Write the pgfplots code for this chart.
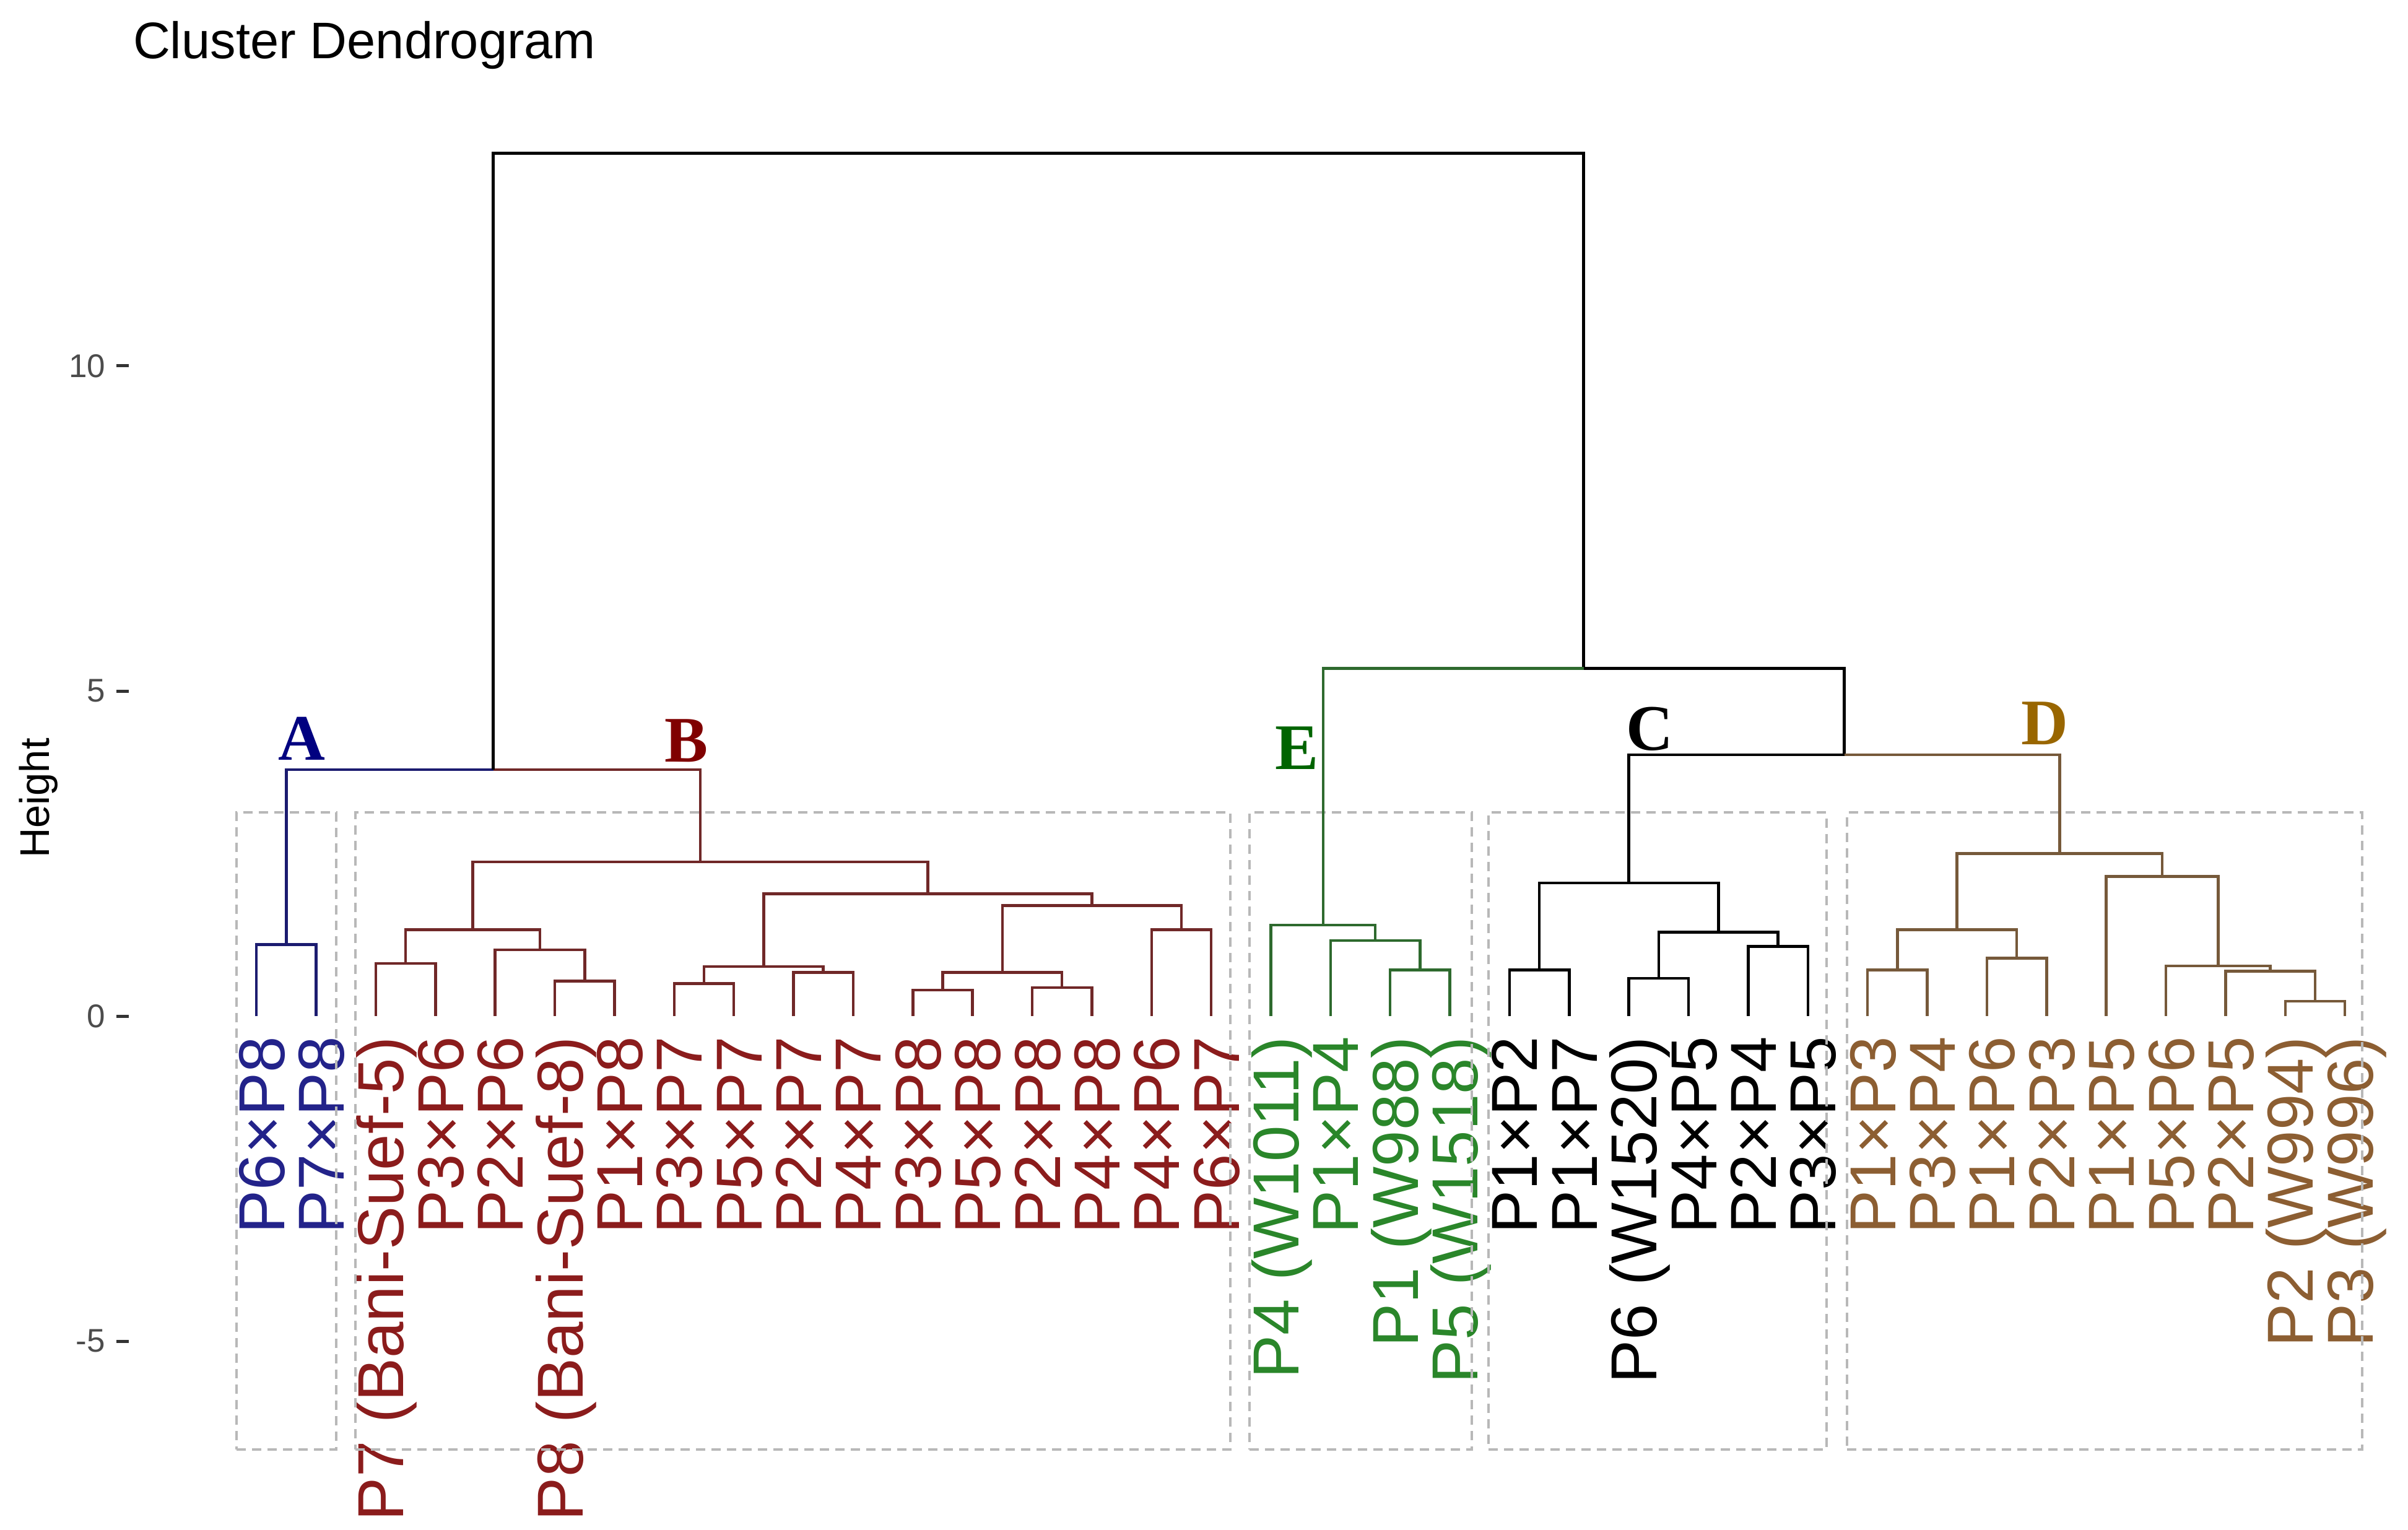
\documentclass[border=0pt]{standalone}
\usepackage{fontspec}
\setmainfont{Liberation Sans}
\newfontfamily\tnr{Liberation Serif}
\usepackage{pgfplots}
\pgfplotsset{compat=1.18}
\definecolor{cA}{HTML}{23238A}
\definecolor{cB}{HTML}{8B1C1C}
\definecolor{cE}{HTML}{2A862A}
\definecolor{cC}{HTML}{000000}
\definecolor{cD}{HTML}{8C5E32}
\definecolor{lA}{HTML}{1C1C70}
\definecolor{lB}{HTML}{702828}
\definecolor{lE}{HTML}{2E6A2E}
\definecolor{lD}{HTML}{76593A}
\definecolor{tA}{HTML}{000080}
\definecolor{tB}{HTML}{800000}
\definecolor{tE}{HTML}{006400}
\definecolor{tD}{HTML}{996600}
\newcommand{\LA}[1]{\textcolor{cA}{#1}}
\newcommand{\LB}[1]{\textcolor{cB}{#1}}
\newcommand{\LE}[1]{\textcolor{cE}{#1}}
\newcommand{\LC}[1]{\textcolor{cC}{#1}}
\newcommand{\LD}[1]{\textcolor{cD}{#1}}
\begin{document}
\begin{tikzpicture}
\useasboundingbox (0,0) rectangle (388.9pt,247pt);
\node[anchor=base west, inner sep=0pt, font=\fontsize{8.3}{10}\selectfont] at (21.3pt,237.5pt) {Cluster Dendrogram};
\node[rotate=90, inner sep=0pt, font=\fontsize{6.7}{8}\selectfont] at (6.2pt,118.1pt) {Height};
\begin{axis}[
  at={(20.8pt,1.0pt)}, anchor=south west,
  scale only axis, width=366.2pt, height=227.85pt,
  xmin=-1.14, xmax=36.86, ymin=-7.8, ymax=13.9,
  clip=false,
  axis x line*=middle, axis y line*=left,
  x axis line style={draw=none}, y axis line style={draw=none},
  xtick={1,...,36},
  xtick style={draw=none},
  xticklabels={\LA{P6×P8},\LA{P7×P8},\LB{P7 (Bani-Suef-5)},\LB{P3×P6},\LB{P2×P6},\LB{P8 (Bani-Suef-8)},\LB{P1×P8},\LB{P3×P7},\LB{P5×P7},\LB{P2×P7},\LB{P4×P7},\LB{P3×P8},\LB{P5×P8},\LB{P2×P8},\LB{P4×P8},\LB{P4×P6},\LB{P6×P7},\LE{P4 (W1011)},\LE{P1×P4},\LE{P1 (W988)},\LE{P5 (W1518)},\LC{P1×P2},\LC{P1×P7},\LC{P6 (W1520)},\LC{P4×P5},\LC{P2×P4},\LC{P3×P5},\LD{P1×P3},\LD{P3×P4},\LD{P1×P6},\LD{P2×P3},\LD{P1×P5},\LD{P5×P6},\LD{P2×P5},\LD{P2 (W994)},\LD{P3 (W996)}},
  xticklabel style={yshift=-1.1pt, rotate=90, anchor=east, inner sep=0pt, text height=0.9em, text depth=0pt, font=\fontsize{10.5}{12}\selectfont},
  ytick={-5,0,5,10}, yticklabels={-5,0,5,10},
  tick align=outside, major tick length=2pt,
  ytick style={color=black!80, line width=0.5pt},
  yticklabel style={font=\fontsize{5.3}{6}\selectfont, text=black!70, inner sep=0pt, xshift=-1.6pt},
  unbounded coords=jump,
  every axis plot/.append style={line width=0.45pt, line join=miter},
]
% cluster boxes
\addplot[color=black!28, dash pattern=on 1.5pt off 1pt, line width=0.4pt] coordinates {
(0.67,-6.67) (2.34,-6.67) (2.34,3.13) (0.67,3.13) (0.67,-6.67) (nan,nan)
(2.66,-6.67) (17.32,-6.67) (17.32,3.13) (2.66,3.13) (2.66,-6.67) (nan,nan)
(17.64,-6.67) (21.37,-6.67) (21.37,3.13) (17.64,3.13) (17.64,-6.67) (nan,nan)
(21.65,-6.67) (27.31,-6.67) (27.31,3.13) (21.65,3.13) (21.65,-6.67) (nan,nan)
(27.66,-6.67) (36.29,-6.67) (36.29,3.13) (27.66,3.13) (27.66,-6.67)
};
% cluster A
\addplot[color=lA] coordinates {
(1,0) (1,1.10) (2,1.10) (2,0) (nan,nan)
(1.5,1.10) (1.5,3.79) (4.96875,3.79)
};
% cluster B
\addplot[color=lB] coordinates {
(4.96875,3.79) (8.4375,3.79) (8.4375,2.37) (nan,nan)
(4.625,1.33) (4.625,2.37) (12.25,2.37) (12.25,1.88) (nan,nan)
(3.5,0.81) (3.5,1.33) (5.75,1.33) (5.75,1.02) (nan,nan)
(3,0) (3,0.81) (4,0.81) (4,0) (nan,nan)
(5,0) (5,1.02) (6.5,1.02) (6.5,0.54) (nan,nan)
(6,0) (6,0.54) (7,0.54) (7,0) (nan,nan)
(9.5,0.76) (9.5,1.88) (15,1.88) (15,1.70) (nan,nan)
(8.5,0.50) (8.5,0.76) (10.5,0.76) (10.5,0.67) (nan,nan)
(8,0) (8,0.50) (9,0.50) (9,0) (nan,nan)
(10,0) (10,0.67) (11,0.67) (11,0) (nan,nan)
(13.5,0.67) (13.5,1.70) (16.5,1.70) (16.5,1.33) (nan,nan)
(12.5,0.40) (12.5,0.67) (14.5,0.67) (14.5,0.44) (nan,nan)
(12,0) (12,0.40) (13,0.40) (13,0) (nan,nan)
(14,0) (14,0.44) (15,0.44) (15,0) (nan,nan)
(16,0) (16,1.33) (17,1.33) (17,0)
};
% upper black branches and cluster C
\addplot[color=black] coordinates {
(4.96875,3.79) (4.96875,13.27) (23.2422,13.27) (23.2422,5.35) (nan,nan)
(23.2422,5.35) (27.6094,5.35) (27.6094,4.02) (24,4.02) (24,2.05) (nan,nan)
(22.5,0.71) (22.5,2.05) (25.5,2.05) (25.5,1.29) (nan,nan)
(22,0) (22,0.71) (23,0.71) (23,0) (nan,nan)
(24.5,0.58) (24.5,1.29) (26.5,1.29) (26.5,1.07) (nan,nan)
(24,0) (24,0.58) (25,0.58) (25,0) (nan,nan)
(26,0) (26,1.07) (27,1.07) (27,0)
};
% cluster E
\addplot[color=lE] coordinates {
(23.2422,5.35) (18.875,5.35) (18.875,1.40) (nan,nan)
(18,0) (18,1.40) (19.75,1.40) (19.75,1.16) (nan,nan)
(19,0) (19,1.16) (20.5,1.16) (20.5,0.71) (nan,nan)
(20,0) (20,0.71) (21,0.71) (21,0)
};
% cluster D
\addplot[color=lD] coordinates {
(27.6094,4.02) (31.21875,4.02) (31.21875,2.50) (nan,nan)
(29.5,1.33) (29.5,2.50) (32.9375,2.50) (32.9375,2.15) (nan,nan)
(28.5,0.71) (28.5,1.33) (30.5,1.33) (30.5,0.89) (nan,nan)
(28,0) (28,0.71) (29,0.71) (29,0) (nan,nan)
(30,0) (30,0.89) (31,0.89) (31,0) (nan,nan)
(32,0) (32,2.15) (33.875,2.15) (33.875,0.77) (nan,nan)
(33,0) (33,0.77) (34.75,0.77) (34.75,0.69) (nan,nan)
(34,0) (34,0.69) (35.5,0.69) (35.5,0.23) (nan,nan)
(35,0) (35,0.23) (36,0.23) (36,0)
};
\node[anchor=base, inner sep=0pt, text=tA, font=\tnr\bfseries\fontsize{10.5}{12}\selectfont] at (axis cs:1.76,3.94) {A};
\node[anchor=base, inner sep=0pt, text=tB, font=\tnr\bfseries\fontsize{10.5}{12}\selectfont] at (axis cs:8.20,3.91) {B};
\node[anchor=base, inner sep=0pt, text=tE, font=\tnr\bfseries\fontsize{10.5}{12}\selectfont] at (axis cs:18.44,3.80) {E};
\node[anchor=base, inner sep=0pt, text=black, font=\tnr\bfseries\fontsize{10.5}{12}\selectfont] at (axis cs:24.35,4.09) {C};
\node[anchor=base, inner sep=0pt, text=tD, font=\tnr\bfseries\fontsize{10.5}{12}\selectfont] at (axis cs:30.97,4.18) {D};
\end{axis}
\end{tikzpicture}
\end{document}
